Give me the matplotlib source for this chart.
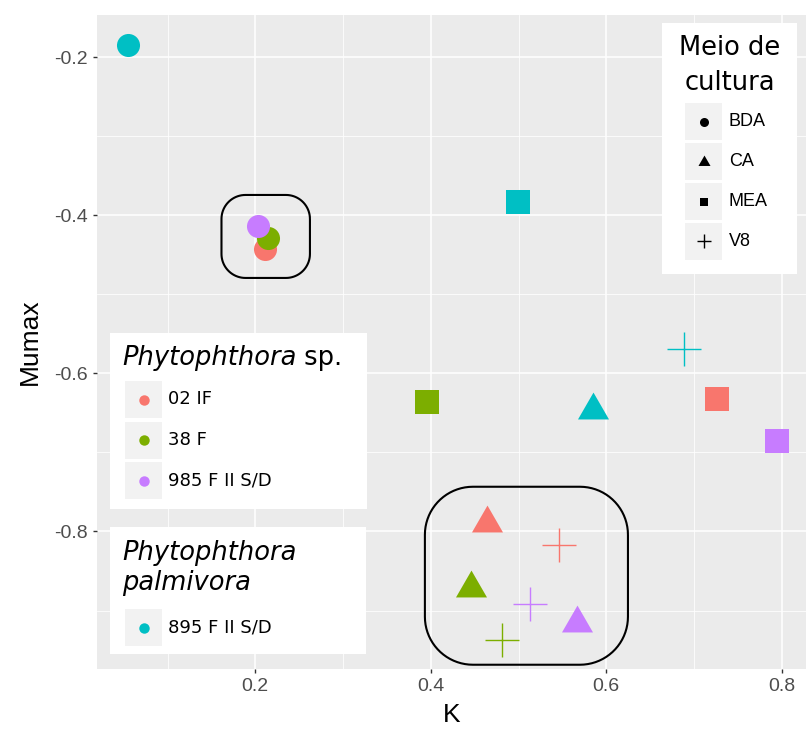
import numpy as np
import matplotlib
matplotlib.use("Agg")
import matplotlib.pyplot as plt
from matplotlib.lines import Line2D
from matplotlib.patches import Rectangle, PathPatch
from matplotlib.path import Path

# dados
isolados = ['02 IF', '38 F', '985 F II S/D', '895 F II S/D']
cores = ['#F8766D', '#7CAE00', '#C77CFF', '#00BFC4']
meios = ['BDA', 'CA', 'MEA', 'V8']

k_02 = [0.211, 0.464, 0.726, 0.546]
k_38 = [0.215, 0.446, 0.396, 0.481]
k_985 = [0.203, 0.567, 0.794, 0.513]
k_895 = [0.055, 0.585, 0.499, 0.689]

mu_02 = [-0.443, -0.789, -0.632, -0.817]
mu_38 = [-0.429, -0.871, -0.636, -0.937]
mu_985 = [-0.413, -0.916, -0.686, -0.892]
mu_895 = [-0.184, -0.646, -0.383, -0.569]

xticks = [0.2, 0.4, 0.6, 0.8]
yticks = [-0.8, -0.6, -0.4, -0.2]

# contornos (centro x, centro y, meia largura, meia altura, raio em px)
laco1 = [0.2119, -0.4267, 0.0504, 0.0525, 24]
laco2 = [0.509, -0.856, 0.1157, 0.1126, 48]

W, H = 806, 731
fig = plt.figure(figsize=(W / 100, H / 100), dpi=100)
ax = fig.add_axes([96.7 / W, 1 - 669 / H, (W - 96.7) / W, (669 - 15) / H])
ax.set_facecolor('#EBEBEB')
for s in ax.spines.values():
    s.set_visible(False)
ax.set_xlim(0.0193, 0.8276)
ax.set_ylim(-0.974, -0.1465)
ax.set_xticks(xticks)
ax.set_yticks(yticks)
ax.set_xticks([0.1, 0.3, 0.5, 0.7], minor=True)
ax.set_yticks([-0.9, -0.7, -0.5, -0.3], minor=True)
ax.grid(True, which='major', color='white', lw=1.1)
ax.grid(True, which='minor', color='white', lw=0.55)
ax.set_axisbelow(True)
ax.tick_params(which='major', length=3, width=1.0, color='#333333',
               labelcolor='#4D4D4D', labelsize=14, pad=3.5)
ax.tick_params(which='minor', length=0)
ax.set_xticklabels(['0.2', '0.4', '0.6', '0.8'], family='Liberation Sans')
ax.set_yticklabels(['-0.8', '-0.6', '-0.4', '-0.2'], family='Liberation Sans')
ax.set_xlabel('K', fontsize=19, family='Liberation Sans', labelpad=6)
ax.set_ylabel('Mumax', fontsize=19, family='Liberation Sans', labelpad=9)

tri = [(0, 1), (-0.866, -0.5), (0.866, -0.5)]
estilos = {
    'BDA': dict(marker='o', ms=16.6),
    'CA': dict(marker=tri, ms=25.8),
    'MEA': dict(marker='s', ms=16.6),
    'V8': dict(marker='+', ms=25, mew=1.0),
}

ks = [k_02, k_38, k_985, k_895]
mus = [mu_02, mu_38, mu_985, mu_895]
for j, m in enumerate(meios):
    for i in range(len(isolados)):
        st = estilos[m]
        ax.plot([ks[i][j]], [mus[i][j]], ls='none', marker=st['marker'],
                ms=st['ms'], color=cores[i], mec=cores[i],
                mew=st.get('mew', 0), zorder=3)

# contornos arredondados
sx = 877.5
sy = 790.5


def contorno(cx, cy, a, b, rpx):
    rx, ry = rpx / sx, rpx / sy
    t = np.linspace(0, np.pi / 2, 20)
    pts = []
    cantos = [(cx + a - rx, cy + b - ry, 0), (cx - a + rx, cy + b - ry, 1),
              (cx - a + rx, cy - b + ry, 2), (cx + a - rx, cy - b + ry, 3)]
    for ccx, ccy, q in cantos:
        ang = t + q * np.pi / 2
        pts += list(zip(ccx + rx * np.cos(ang), ccy + ry * np.sin(ang)))
    pts.append(pts[0])
    return Path(pts)


for lc in [laco1, laco2]:
    ax.add_patch(PathPatch(contorno(*lc), fill=False, ec='black', lw=1.5, zorder=4))


# legendas (coordenadas em pixels da figura)
def fx(x):
    return x / W


def fy(y):
    return 1 - y / H


def caixa(x0, y0, x1, y1, cor='white', z=5):
    fig.add_artist(Rectangle((fx(x0), fy(y1)), fx(x1) - fx(x0), fy(y0) - fy(y1),
                             transform=fig.transFigure, fc=cor, ec='none', zorder=z))


def chave(x0, y0, marker, ms, cor, mew=0):
    caixa(x0, y0, x0 + 37, y0 + 37, cor='#F2F2F2', z=6)
    fig.add_artist(Line2D([fx(x0 + 18.5)], [fy(y0 + 18.5)], transform=fig.transFigure,
                          ls='none', marker=marker, ms=ms, color=cor, mec=cor,
                          mew=mew, zorder=7))


fam = 'DejaVu Sans'

# Meio de cultura
caixa(662, 23, 797, 274)
fig.text(fx(729.5), fy(55), 'Meio de', ha='center', va='baseline', fontsize=18.5,
         family=fam, zorder=8)
fig.text(fx(729.5), fy(90), 'cultura', ha='center', va='baseline', fontsize=18.5,
         family=fam, zorder=8)
lms = {'BDA': 6.5, 'CA': 10, 'MEA': 6, 'V8': 9.5}
for r, m in enumerate(meios):
    y0 = 103 + r * 40
    chave(685, y0, estilos[m]['marker'], lms[m], 'black', mew=1.0 if m == 'V8' else 0)
    fig.text(fx(729), fy(y0 + 18.5), m, ha='left', va='center', fontsize=13,
             family='Liberation Sans', zorder=8)

# Phytophthora sp.
fig.canvas.draw()
rend = fig.canvas.get_renderer()
caixa(110, 333, 367, 509)
t = fig.text(fx(122), fy(365), 'Phytophthora', ha='left', va='baseline', fontsize=18.5,
             family=fam, style='italic', zorder=8)
bb = t.get_window_extent(rend)
fig.text(bb.x1 / W, fy(365), ' sp.', ha='left', va='baseline', fontsize=18.5,
         family=fam, zorder=8)
for r in range(3):
    y0 = 381 + r * 40.5
    chave(125, y0, 'o', 7.5, cores[r])
    fig.text(fx(168), fy(y0 + 18.5), isolados[r], ha='left', va='center', fontsize=13,
             family=fam, zorder=8)

# Phytophthora palmivora
caixa(110, 527, 366, 654)
fig.text(fx(122), fy(560), 'Phytophthora', ha='left', va='baseline', fontsize=18.5,
         family=fam, style='italic', zorder=8)
fig.text(fx(122), fy(590), 'palmivora', ha='left', va='baseline', fontsize=18.5,
         family=fam, style='italic', zorder=8)
chave(125, 609, 'o', 7.5, cores[3])
fig.text(fx(168), fy(627.5), isolados[3], ha='left', va='center', fontsize=13,
         family=fam, zorder=8)

fig.savefig('out.png', dpi=100)
